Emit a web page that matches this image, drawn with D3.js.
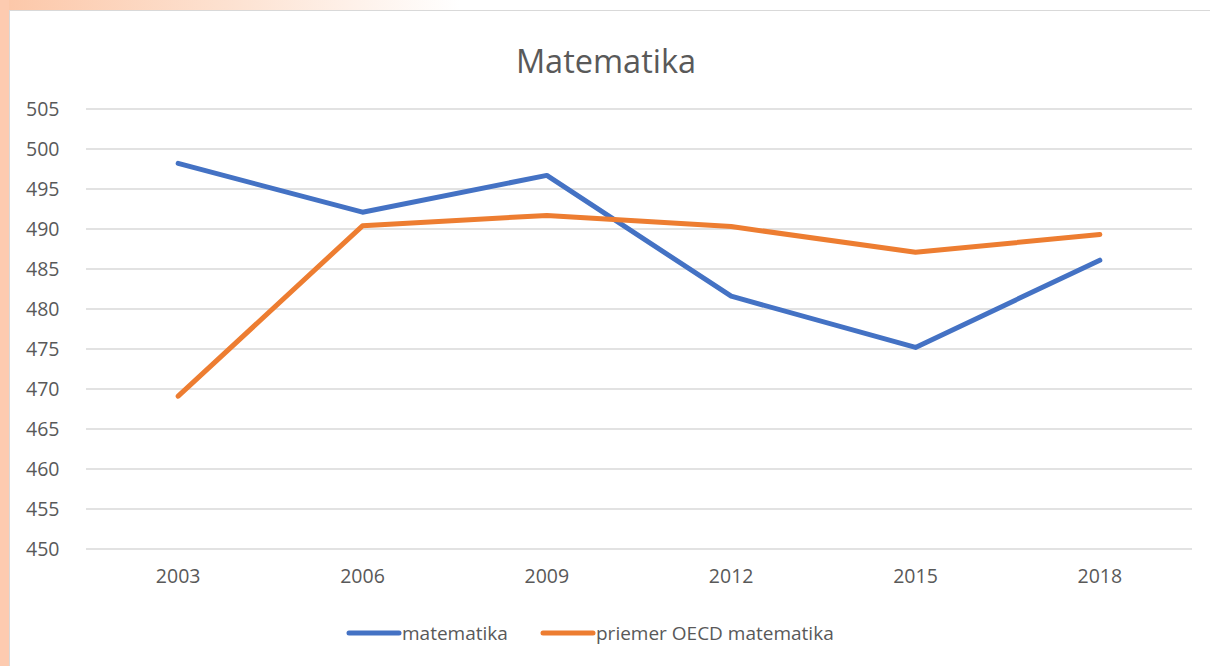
<!DOCTYPE html>
<html>
<head>
<meta charset="utf-8">
<script src="https://cdn.jsdelivr.net/npm/d3@7"></script>
<style>
  body { margin: 0; padding: 0; overflow: hidden; }
  svg { display: block; }
</style>
</head>
<body>
<div id="chart"></div>
<script>
var years = ["2003", "2006", "2009", "2012", "2015", "2018"];
var matematika = [498.2, 492.1, 496.7, 481.6, 475.2, 486.1];
var oecdMatematika = [469.1, 490.4, 491.7, 490.3, 487.1, 489.3];
var yTicks = [450, 455, 460, 465, 470, 475, 480, 485, 490, 495, 500, 505];
var seriesNames = ["matematika", "priemer OECD matematika"];
var seriesColors = ["#4472c4", "#ed7d31"];

var W = 1210, H = 666;
var margin = { top: 109, right: 18, bottom: 117, left: 86 },
  width = W - margin.left - margin.right,
  height = H - margin.top - margin.bottom;

var svg = d3.select("#chart").append("svg")
  .attr("width", W)
  .attr("height", H);

// slide background peeking out at top and left
var defs = svg.append("defs");
var grad = defs.append("linearGradient").attr("id", "bg")
  .attr("x1", "0").attr("y1", "0").attr("x2", "1").attr("y2", "0");
grad.append("stop").attr("offset", "0").attr("stop-color", "#fcc7a8");
grad.append("stop").attr("offset", "0.2").attr("stop-color", "#fde3d3");
grad.append("stop").attr("offset", "0.38").attr("stop-color", "#ffffff");
grad.append("stop").attr("offset", "1").attr("stop-color", "#ffffff");
svg.append("rect").attr("width", W).attr("height", H).attr("fill", "url(#bg)");
svg.append("rect").attr("x", 0).attr("y", 0).attr("width", 9).attr("height", H).attr("fill", "#fdcbb0");

// chart box
svg.append("rect")
  .attr("x", 9.5).attr("y", 10.5)
  .attr("width", W).attr("height", H)
  .attr("fill", "#ffffff")
  .attr("stroke", "#d9d9d9")
  .attr("stroke-width", 1);

var g = svg.append("g")
  .attr("transform", "translate(" + margin.left + "," + margin.top + ")");

var x = d3.scaleBand().domain(years).range([0, width]);
var y = d3.scaleLinear().domain([450, 505]).range([height, 0]);

// gridlines
g.append("g")
  .selectAll("line")
  .data(yTicks)
  .enter()
  .append("line")
  .attr("x1", 0)
  .attr("x2", width)
  .attr("y1", function (d) { return y(d); })
  .attr("y2", function (d) { return y(d); })
  .attr("stroke", "#d9d9d9")
  .attr("stroke-width", 1.5);

// Y axis labels
var yAxis = g.append("g")
  .call(d3.axisLeft(y).tickValues(yTicks).tickSize(0).tickPadding(23));
yAxis.select(".domain").remove();
yAxis.selectAll("text")
  .attr("fill", "#595959")
  .style("font-family", "'Open Sans', sans-serif")
  .style("font-size", "19.5px")
  .attr("text-anchor", "start")
  .attr("x", -86 + 26)
  .attr("dy", "0.35em");

// X axis labels
var xAxis = g.append("g")
  .attr("transform", "translate(0," + height + ")")
  .call(d3.axisBottom(x).tickSize(0).tickPadding(20));
xAxis.select(".domain").remove();
xAxis.selectAll("text")
  .attr("fill", "#595959")
  .style("font-family", "'Open Sans', sans-serif")
  .style("font-size", "19.5px");

// lines
var line = d3.line()
  .x(function (d, i) { return x(years[i]) + x.bandwidth() / 2; })
  .y(function (d) { return y(d); });

[matematika, oecdMatematika].forEach(function (vals, i) {
  g.append("path")
    .datum(vals)
    .attr("fill", "none")
    .attr("stroke", seriesColors[i])
    .attr("stroke-width", 5)
    .attr("stroke-linecap", "round")
    .attr("stroke-linejoin", "round")
    .attr("d", line);
});

// title
svg.append("text")
  .attr("x", 606)
  .attr("y", 73)
  .attr("text-anchor", "middle")
  .attr("fill", "#595959")
  .style("font-family", "'Open Sans', sans-serif")
  .style("font-size", "32.5px")
  .text("Matematika");

// legend
var legendX = [349, 543];
var legend = svg.append("g");
seriesNames.forEach(function (name, i) {
  legend.append("line")
    .attr("x1", legendX[i]).attr("x2", legendX[i] + 50)
    .attr("y1", 633).attr("y2", 633)
    .attr("stroke", seriesColors[i])
    .attr("stroke-width", 5)
    .attr("stroke-linecap", "round");
  legend.append("text")
    .attr("x", legendX[i] + 53)
    .attr("y", 633)
    .attr("dy", "0.35em")
    .attr("fill", "#595959")
    .style("font-family", "'Open Sans', sans-serif")
    .style("font-size", "19px")
    .text(name);
});
</script>
</body>
</html>
